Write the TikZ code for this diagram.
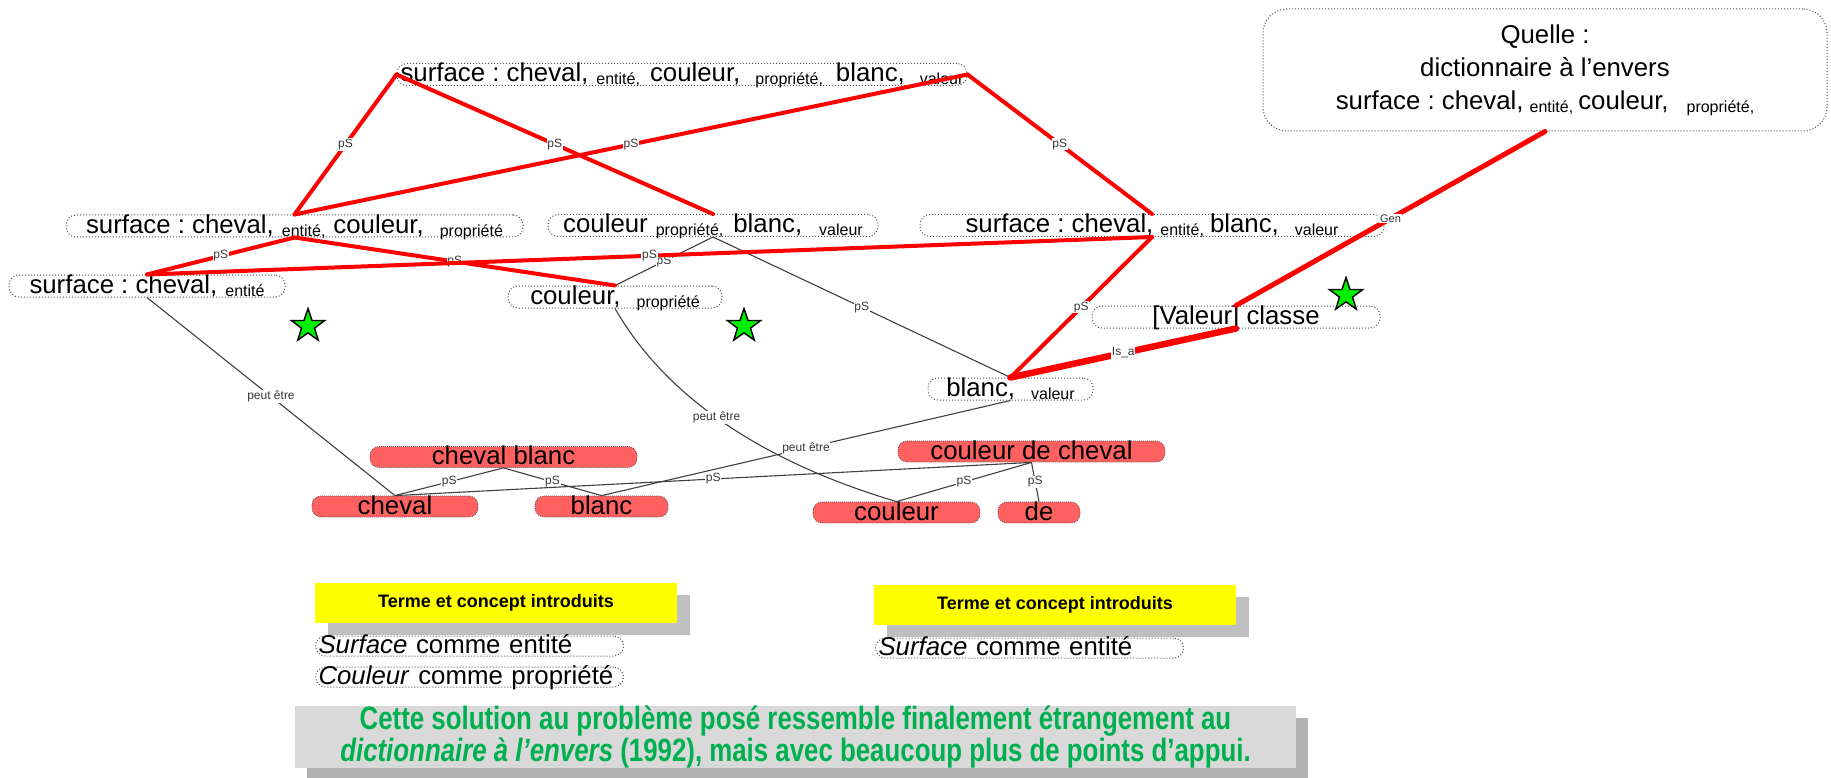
\documentclass[tikz,border=0pt]{standalone}
\usepackage{fontspec}
\setmainfont{Liberation Sans}
\newfontfamily\narrowsans[FakeStretch=0.8]{Liberation Sans}
\usetikzlibrary{shapes.geometric,shadows}
\frenchspacing

\definecolor{wordred}{RGB}{255,96,96}
\definecolor{linkred}{RGB}{255,0,0}
\definecolor{linkgray}{RGB}{64,64,64}
\definecolor{tagcolor}{RGB}{55,55,55}
\definecolor{dotcolor}{RGB}{80,80,80}
\definecolor{headyellow}{RGB}{255,255,0}
\definecolor{headshadow}{RGB}{191,191,191}
\definecolor{notefill}{RGB}{217,217,217}
\definecolor{noteshadow}{RGB}{178,178,178}
\definecolor{notegreen}{RGB}{0,176,80}
\definecolor{stargreen}{RGB}{0,240,0}

% smaller, slightly lowered role tag written after a term
\newcommand{\role}[1]{\raisebox{-3pt}{\fontsize{16}{16}\selectfont #1}}
\newcommand{\gap}[1]{\hspace{#1pt}}

\begin{document}
\begin{tikzpicture}[x=1pt,y=-1pt,
  every node/.style={font=\fontsize{25.8}{30}\selectfont},
  term/.style={draw=dotcolor, line width=1pt, dash pattern=on 1pt off 2pt,
    rounded corners=10pt, inner sep=0pt, minimum height=22pt,
    text height=18.5pt, text depth=3.5pt},
  source/.style={draw=dotcolor, line width=1pt, dash pattern=on 1pt off 2pt,
    rounded corners=24pt, inner sep=0pt, minimum width=564pt, minimum height=122pt,
    align=center, font=\fontsize{25.8}{33}\selectfont},
  word/.style={fill=wordred, draw=dotcolor, line width=0.8pt, dash pattern=on 0.8pt off 1.2pt,
    rounded corners=9pt, inner sep=0pt, minimum height=21pt,
    text height=18pt, text depth=3pt},
  tag/.style={fill=white, inner sep=0.8pt, text=tagcolor, font=\fontsize{12}{12}\selectfont},
  redlink/.style={draw=linkred, line width=4pt, line cap=round},
  thinlink/.style={draw=linkgray, line width=1.1pt},
  head/.style={fill=headyellow, minimum width=362pt, minimum height=40pt, inner sep=0pt,
    font=\bfseries\fontsize{18}{18}\selectfont,
    drop shadow={shadow xshift=13pt, shadow yshift=-12pt, fill=headshadow, opacity=1}},
  notebox/.style={term, anchor=west, inner xsep=3pt, text width=302pt, align=left,
    minimum height=20pt, text height=17pt, text depth=3pt},
  remark/.style={fill=notefill, minimum width=1001pt, minimum height=58pt, inner sep=0pt,
    align=center, text=notegreen, font=\narrowsans\bfseries\fontsize{32.3}{31.5}\selectfont,
    drop shadow={shadow xshift=12pt, shadow yshift=-12pt, fill=noteshadow, opacity=1}},
  mark star/.style={star, star points=5, star point ratio=2.55, minimum size=35pt,
    inner sep=0pt, fill=stargreen, draw=black, line width=1.4pt}
]
\fill[white] (0,0) rectangle (1831,778);
\useasboundingbox (0,0) rectangle (1831,778);

% concept terms
\node[term, minimum width=570pt] (T) at (682,74.5)
  {surface : cheval,\gap{8}\role{entité,}\gap{10}couleur,\gap{15}\role{propriété,}\gap{13}blanc,\gap{15}\role{valeur}};
\node[term, minimum width=457pt] (A) at (294.5,226)
  {surface : cheval,\gap{8}\role{entité,}\gap{8}couleur,\gap{16}\role{propriété}};
\node[term, minimum width=330pt] (B) at (713,225.5)
  {couleur\gap{8}\role{propriété,}\gap{10}blanc,\gap{17}\role{valeur}};
\node[term, minimum width=464pt] (C) at (1152,225.5)
  {surface : cheval,\gap{7}\role{entité,}\gap{6}blanc,\gap{16}\role{valeur}};
\node[term, minimum width=276pt] (D) at (147,286)
  {surface : cheval,\gap{8}\role{entité}};
\node[term, minimum width=214pt] (E) at (615,297)
  {couleur,\gap{16}\role{propriété}};
\node[term, minimum width=288pt] (F) at (1236,317) {[Valeur] classe};
\node[term, minimum width=165pt] (G) at (1010.5,389)
  {blanc,\gap{16}\role{valeur}};

% source box
\node[source] (Q) at (1545,70)
  {Quelle :\\ dictionnaire à l’envers\\ surface : cheval,\gap{6}\role{entité,}\gap{5}couleur,\gap{18}\role{propriété,}};

% words
\node[word, minimum width=267pt] (H) at (503.5,457) {cheval blanc};
\node[word, minimum width=166pt] (I) at (395,506.5) {cheval};
\node[word, minimum width=133pt] (J) at (601.5,506.5) {blanc};
\node[word, minimum width=267pt] (K) at (1031.5,451.5) {couleur de cheval};
\node[word, minimum width=167pt] (L) at (896.5,512.5) {couleur};
\node[word, minimum width=82pt] (M) at (1039,512.5) {de};

% thin links
\draw[thinlink] (E.north) -- node[tag]{pS} (B.south);
\draw[thinlink] (B.south) -- node[tag]{pS} (G.north);
\draw[thinlink] (D.south) -- node[tag]{peut être} (I.north);
\draw[thinlink] (E.south) .. controls (660,387) and (747,457) .. node[tag]{peut être} (L.north);
\draw[thinlink] (G.south) -- node[tag]{peut être} (J.north);
\draw[thinlink] (H.south) -- node[tag]{pS} (I.north);
\draw[thinlink] (H.south) -- node[tag]{pS} (J.north);
\draw[thinlink] (I.north) -- node[tag]{pS} (K.south);
\draw[thinlink] (K.south) -- node[tag]{pS} (L.north);
\draw[thinlink] (K.south) -- node[tag]{pS} (M.north);

% red links
\draw[redlink] (T.west) -- node[tag]{pS} (A.north);
\draw[redlink] (T.west) -- node[tag]{pS} (B.north);
\draw[redlink] (A.north) -- node[tag]{pS} (T.east);
\draw[redlink] (T.east) -- node[tag]{pS} (C.north);
\draw[redlink] (A.south) -- node[tag]{pS} (D.north);
\draw[redlink] (A.south) -- node[tag]{pS} (E.north);
\draw[redlink] (D.north) -- node[tag]{pS} (C.south);
\draw[redlink] (C.south) -- node[tag]{pS} (G.north);
\draw[redlink, line width=6.5pt] (G.north) -- node[tag]{Is\_a} (F.south);
\draw[redlink, line width=5pt] (F.north) -- node[tag, font=\fontsize{11}{11}\selectfont]{Gen} (Q.south);

% stars
\node[mark star] (s1) at (308,326) {};
\node[mark star] (s2) at (744,326) {};
\node[mark star] (s3) at (1346,295) {};

% introduced terms
\node[head] (Y1) at (496,603) {Terme et concept introduits};
\node[notebox] (S1) at (315,646) {\textit{Surface} comme entité};
\node[notebox] (S2) at (315,677) {\textit{Couleur} comme propriété};
\node[head] (Y2) at (1055,605) {Terme et concept introduits};
\node[notebox] (S3) at (875,648) {\textit{Surface} comme entité};

% closing remark
\node[remark] (N) at (795.5,737)
  {Cette solution au problème posé ressemble finalement étrangement au\\
   \textit{dictionnaire à l’envers} (1992), mais avec beaucoup plus de points d’appui.};
\end{tikzpicture}
\end{document}
